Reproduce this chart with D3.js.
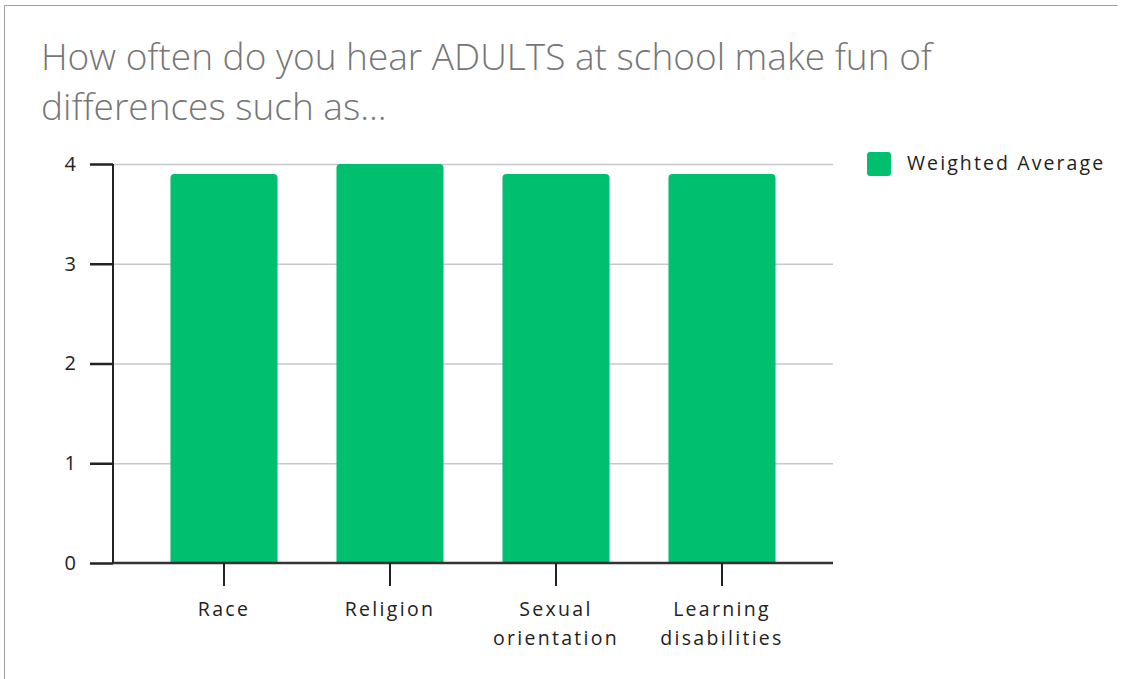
<!DOCTYPE html>
<html>
<head>
<meta charset="utf-8">
<script src="https://cdn.jsdelivr.net/npm/d3@7"></script>
<style>
  html, body { margin: 0; padding: 0; background: #fff; }
  svg { display: block; }
</style>
</head>
<body>
<script>
// Survey question and answers
const title = ["How often do you hear ADULTS at school make fun of", "differences such as..."];
const categories = [["Race"], ["Religion"], ["Sexual", "orientation"], ["Learning", "disabilities"]];
const weightedAverage = [3.9, 4.0, 3.9, 3.9];
const yTicks = [0, 1, 2, 3, 4];
const seriesName = "Weighted Average";

const W = 1121, H = 679;
const green = "#00BF6F";
const font = "'Open Sans', 'Noto Sans', sans-serif";

const svg = d3.select("body").append("svg").attr("width", W).attr("height", H);

// Frame around the card
svg.append("path")
  .attr("d", "M4.5,679 L4.5,5.5 L1117.5,5.5")
  .attr("fill", "none").attr("stroke", "#a0a0a0").attr("stroke-width", 1);

// Title
svg.append("g").selectAll("text").data(title).join("text")
  .attr("x", 41).attr("y", (d, i) => 70 + i * 50)
  .attr("font-family", font).attr("font-weight", 300)
  .attr("font-size", 37).attr("fill", "#767676")
  .text(d => d);

const plot = { left: 113, right: 833, top: 164, bottom: 563 };

const x = d3.scaleBand()
  .domain(d3.range(categories.length))
  .range([plot.left + 28, plot.right - 28])
  .paddingInner(0.355)
  .paddingOuter(0.1775);

const y = d3.scaleLinear().domain([0, 4]).range([plot.bottom, plot.top]);

// Gridlines
svg.append("g").selectAll("line").data(yTicks.filter(t => t > 0)).join("line")
  .attr("x1", plot.left).attr("x2", plot.right)
  .attr("y1", d => y(d) + 0.5).attr("y2", d => y(d) + 0.5)
  .attr("stroke", "#c8c8c8").attr("stroke-width", 1.5);

// Bars with rounded top corners
const r = 4;
svg.append("g").selectAll("path").data(weightedAverage).join("path")
  .attr("fill", green)
  .attr("d", (d, i) => {
    const x0 = x(i), w = x.bandwidth(), yt = y(d), yb = y(0);
    return `M${x0},${yb} L${x0},${yt + r} Q${x0},${yt} ${x0 + r},${yt} L${x0 + w - r},${yt} Q${x0 + w},${yt} ${x0 + w},${yt + r} L${x0 + w},${yb} Z`;
  });

// Y axis
const yAxis = svg.append("g").attr("transform", `translate(${plot.left},0)`)
  .call(d3.axisLeft(y).tickValues(yTicks).tickSize(23).tickPadding(14).tickFormat(d3.format("d")));
yAxis.select(".domain").attr("stroke", "#222").attr("stroke-width", 2).attr("d", `M0,${plot.top}V${plot.bottom}`);
yAxis.selectAll(".tick line").attr("stroke", "#222").attr("stroke-width", 2.5);
yAxis.selectAll(".tick text").attr("font-family", font).attr("font-size", 20).attr("fill", "#222");

// X axis
const xAxis = svg.append("g").attr("transform", `translate(0,${plot.bottom})`)
  .call(d3.axisBottom(x).tickSize(23).tickFormat(""));
xAxis.select(".domain").attr("stroke", "#333").attr("stroke-width", 2.5).attr("d", `M${plot.left},0H${plot.right}`);
xAxis.selectAll(".tick line").attr("stroke", "#222").attr("stroke-width", 2);
xAxis.selectAll(".tick").each(function(d) {
  const t = d3.select(this).append("text")
    .attr("y", 53).attr("text-anchor", "middle")
    .attr("font-family", font).attr("font-size", 19.5).attr("fill", "#222")
    .attr("letter-spacing", 2.3);
  categories[d].forEach((line, j) => {
    t.append("tspan").attr("x", 0).attr("dy", j === 0 ? 0 : 29).text(line);
  });
});

// Legend
const legend = svg.append("g").attr("transform", "translate(867,152)");
legend.append("rect").attr("width", 24).attr("height", 24).attr("rx", 3).attr("fill", green);
legend.append("text").attr("x", 40).attr("y", 18)
  .attr("font-family", font).attr("font-size", 19.5).attr("fill", "#222")
  .attr("letter-spacing", 2.1).text(seriesName);
</script>
</body>
</html>
